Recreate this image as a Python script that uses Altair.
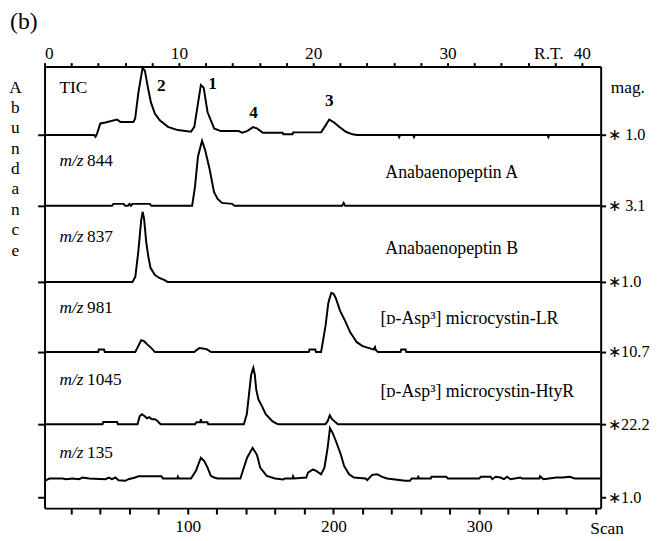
import altair as alt
import pandas as pd

# ---------------- data ----------------
# x = scan number, value = signal height above each trace's own baseline
tic_scan = [1.7, 35.6, 36.7, 37.8, 40, 43.5, 51.4, 53.7, 62.7, 63.9,
            66.1, 69, 70.6, 72.4, 74.7, 77.4, 80.8, 86.4, 93.2, 102.2,
            104.5, 106.8, 109, 110.9, 113.6, 118.1, 122.6, 135, 137.3, 140.7,
            144.8, 147.5, 151.5, 165.1, 165.6, 171.9, 172.3, 191.5, 194.4, 197.1,
            200.5, 203.9, 208.5, 213, 216.4, 244.5, 245.1, 245.7, 254.7, 255.3,
            255.9, 347, 347.5, 348, 383.4]
tic_abund = [0, 0, -1.7, 1.7, 11.7, 12.7, 15.7, 13.3, 13.3, 16.7,
             43, 68, 65, 50, 33, 21.7, 15, 8.3, 5, 3.3,
             8.3, 30, 50.7, 48, 23, 6.7, 4, 4, 2.3, 4,
             8, 6.7, 2.3, 2.3, 0.7, 0.7, 2.7, 2.7, 9.3, 15.7,
             12.7, 8.3, 3.3, 0.7, 0, 0, -2, 0, 0, -2,
             0, 0, -2, 0, 0]

mz844_scan = [1.7, 48, 49, 56, 57, 59, 60, 61, 62, 74, 75, 103, 105, 107, 109.8,
              112, 115, 118, 120.5, 123.5, 130.5, 132, 206, 207, 208, 383.4]
mz844_abund = [0, 0, 2, 2, 0, 0, 2, 0, 2, 2, 0, 0, 20, 50, 66,
               56, 37, 14, 7, 3, 2, 0, 0, 3, 0, 0]

mz837_scan = [1.7, 62, 64, 66, 68, 69, 70, 71.5, 73, 74.5, 77.5, 80.5, 84.5, 86, 383.4]
mz837_abund = [0, 0, 5, 30, 62, 71, 64, 40, 25, 14, 7, 4, 1.5, 0, 0]

mz981_scan = [1.7, 38.5, 39, 42.5, 43, 64, 66, 68, 70, 72,
              75, 77.5, 104.5, 106, 108, 113, 116, 183, 183.5, 187.5,
              188, 191.5, 194.5, 196.5, 198.5, 200, 201.5, 204.5, 207.5, 211.5,
              216, 220, 224.5, 227.5, 228.5, 229, 230.5, 246, 246.5, 249.5,
              250, 383.4]
mz981_abund = [0, 0, 2.5, 2.5, 0, 0, 6, 12, 11, 8,
               4, 0, 0, 2, 4, 3, 0, 0, 2.5, 2.5,
               0, 0, 26, 50, 60, 59, 55, 42, 33, 20,
               10, 6, 4, 2.5, 5, 2, 0, 0, 2.5, 2.5,
               0, 0]

mz1045_scan = [1.7, 41.5, 42, 51.5, 52, 65.5, 67, 68.5, 70.5, 72,
               73.5, 75.5, 77.5, 79, 80.5, 81.5, 105, 106, 108.5, 109,
               109.5, 113.5, 114, 138.5, 140.5, 142, 143.5, 145, 146, 147,
               148.5, 151, 153.5, 158, 161, 162, 194.5, 196, 197.5, 199,
               201.5, 203, 383.4]
mz1045_abund = [0, 0, 2.3, 2.3, 0, 0, 8, 10, 8, 6,
                7, 5, 5, 3.5, 1, 0, 0, 2, 2, 5,
                2, 2, 0, 0, 10, 30, 50, 57, 50, 35,
                25, 18, 10, 3, 0.5, 0, 0, 3, 9, 5,
                2, 0, 0]

mz135_scan = [1.7, 2.9, 5.1, 14.1, 16.4, 20.9, 25.4, 27.7, 32.2, 43.5,
              45.8, 48, 50.3, 52.5, 57.1, 59.3, 63.9, 66.1, 81.9, 83,
              92.8, 93.2, 93.7, 102.2, 105.6, 109, 111.3, 113.6, 115.8, 118.1,
              120.3, 136.1, 140.7, 144.5, 147.5, 149.7, 154.2, 159.9, 165.6, 166.6,
              171.9, 172.3, 173, 181.4, 182.5, 185.9, 188.1, 191.5, 193.8, 196,
              197.6, 199.5, 201.7, 205.1, 207.3, 210.7, 214.1, 222, 223.2, 226.6,
              230, 233.4, 236.8, 249.2, 252.5, 253.7, 257.8, 258.2, 258.9, 266.8,
              267.3, 277.4, 278.5, 300, 301.2, 307.9, 309, 311.3, 314.7, 317,
              319.2, 321.5, 328.3, 329.4, 341.4, 341.8, 344.1, 353.1, 357.6, 362.2,
              365.6, 383.4]
mz135_abund = [-0.7, -1.7, 0, 0, -0.7, 0, -0.7, 1, 0, -0.7,
               1, -0.7, 1, -1.7, -2.3, -0.7, 1, 2.3, 2.3, 0,
               0, 1.7, 0, 0, 7.7, 21, 17.7, 11, 2.7, 1,
               0, 0, 21, 31, 24, 11, 2.7, 0, -1, 0,
               0, 2.3, 0, 1, 6, 9.3, 7.7, 4.3, 11, 31,
               51, 46, 37.7, 24, 12.7, 4.3, 1, 0, -1.7, 3.7,
               4.3, 1.7, 0, -2.3, -2.3, 0, 0, 1.7, 0, 0,
               1.7, 1.7, 0, 0, 1.7, 1.7, -0.7, 1.7, 1, -0.7,
               1.7, -0.7, 1, 0, 0, 2.3, -0.7, 1, 1, 1.7,
               0, 0]

trace_names = ["TIC", "m/z 844", "m/z 837", "m/z 981", "m/z 1045", "m/z 135"]
trace_scans = [tic_scan, mz844_scan, mz837_scan, mz981_scan, mz1045_scan, mz135_scan]
trace_abunds = [tic_abund, mz844_abund, mz837_abund, mz981_abund, mz1045_abund, mz135_abund]

mz_values = ["844", "837", "981", "1045", "135"]
compounds = ["Anabaenopeptin A", "Anabaenopeptin B",
             "[ᴅ-Asp³] microcystin-LR", "[ᴅ-Asp³] microcystin-HtyR"]
compound_scan = [235.6, 235.6, 232.2, 232.2]
magnifications = ["∗ 1.0", "∗ 3.1", "∗1.0", "∗10.7", "∗22.2", "∗1.0"]
peak_ids = ["2", "1", "4", "3"]
peak_label_scan = [81.9, 117, 145.2, 197.2]
peak_label_abund = [50, 51.3, 22.3, 34]
scan_ticks = list(range(20, 381, 20))
rt_ticks = list(range(0, 41, 2))
abundance_letters = list("Abundance")
panel_tag = "(b)"

# ---------------- layout ----------------
W, H = 563, 447
trace_base = [377.7, 306, 229, 158, 85, 30]
mag_pos = [377.7, 306, 229, 158, 85, 11]
FONT = "Liberation Serif"
FS = 17.5

rows = []
for name, sc, ab, base in zip(trace_names, trace_scans, trace_abunds, trace_base):
    for s, a in zip(sc, ab):
        rows.append({"trace": name, "scan": s, "y": base + a})
df = pd.DataFrame(rows)

xs = alt.Scale(domain=[1.7, 383.4], nice=False, zero=False)
ys = alt.Scale(domain=[0, H], nice=False, zero=False)
x_none = alt.X("scan:Q", scale=xs, axis=None)
y_none = alt.Y("y:Q", scale=ys, axis=None)

traces = alt.Chart(df).mark_line(color="black", strokeWidth=2).encode(
    x=alt.X("scan:Q", scale=xs, axis=alt.Axis(
        orient="bottom", values=scan_ticks,
        labelExpr="datum.value % 100 === 0 ? datum.label : ''",
        tickSize=6, labelPadding=4, grid=False,
        title="Scan", titleX=569, titleY=26, titleAlign="center",
        titleBaseline="alphabetic", titleAngle=0)),
    y=alt.Y("y:Q", scale=ys, axis=alt.Axis(
        orient="left", values=mag_pos, labels=False, tickSize=7, grid=False,
        title=abundance_letters, titleAngle=0, titleX=-30, titleY=12,
        titleAlign="center", titleBaseline="top", titleLineHeight=20.6)),
    detail="trace:N",
    order="scan:Q",
)

rt_layer = alt.Chart(pd.DataFrame({"rt": rt_ticks})).mark_point(opacity=0).encode(
    x=alt.X("rt:Q", scale=alt.Scale(domain=[0, 41.4], nice=False, zero=False),
            axis=alt.Axis(orient="top", values=rt_ticks,
                          labelExpr="datum.value % 10 === 0 ? datum.label : ''",
                          tickSize=4, labelPadding=0, grid=False,
                          title="R.T.", titleX=510, titleY=-8, titleAlign="center",
                          titleBaseline="alphabetic", titleAngle=0)),
    y=alt.value(0),
)

mag_expr = " : ".join(
    f"abs(datum.value - {p}) < 0.5 ? '{m}'" for p, m in zip(mag_pos, magnifications)
) + " : ''"
mag_layer = alt.Chart(pd.DataFrame({"y": mag_pos})).mark_point(opacity=0).encode(
    y=alt.Y("y:Q", scale=ys, axis=alt.Axis(
        orient="right", values=mag_pos, labelExpr=mag_expr, tickSize=5,
        labelPadding=2, grid=False, labelAlign="left", labelFontSize=16.5,
        title="mag.", titleAngle=0, titleX=27, titleY=21,
        titleAlign="center", titleBaseline="middle")),
    x=alt.value(0),
)

tag_df = pd.DataFrame({"scan": [-12.5], "y": [492], "text": [panel_tag]})
tag_text = alt.Chart(tag_df).mark_text(align="center", baseline="middle", fontSize=24).encode(
    x=x_none, y=y_none, text="text:N")

tic_df = pd.DataFrame({"scan": [11.9], "y": [trace_base[0] + 48], "text": ["TIC"]})
tic_text = alt.Chart(tic_df).mark_text(align="left", baseline="middle", fontSize=FS).encode(
    x=x_none, y=y_none, text="text:N")

mz_df = pd.DataFrame({"scan": [11.9] * 5, "y": [p + 45 for p in mag_pos[1:]],
                      "mz": ["m/z"] * 5, "num": mz_values})
mz_italic = alt.Chart(mz_df).mark_text(align="left", baseline="middle", fontSize=FS,
                                       fontStyle="italic").encode(
    x=x_none, y=y_none, text="mz:N")
mz_num = alt.Chart(mz_df).mark_text(align="left", baseline="middle", fontSize=FS,
                                    dx=28).encode(
    x=x_none, y=y_none, text="num:N")

comp_df = pd.DataFrame({"scan": compound_scan, "y": [p + 33 for p in mag_pos[1:5]],
                        "text": compounds})
comp_text = alt.Chart(comp_df).mark_text(align="left", baseline="middle",
                                         fontSize=18).encode(
    x=x_none, y=y_none, text="text:N")

peak_df = pd.DataFrame({"scan": peak_label_scan,
                        "y": [trace_base[0] + a for a in peak_label_abund],
                        "text": peak_ids})
peak_text = alt.Chart(peak_df).mark_text(align="center", baseline="middle",
                                         fontSize=FS, fontWeight="bold").encode(
    x=x_none, y=y_none, text="text:N")

chart = alt.layer(
    traces, rt_layer, mag_layer, tag_text, tic_text, mz_italic, mz_num, comp_text, peak_text
).resolve_scale(
    x="independent", y="independent"
).properties(
    width=W, height=H,
    autosize=alt.AutoSizeParams(type="none"),
    padding={"left": 37, "top": 56, "right": 55, "bottom": 32},
).configure_view(stroke=None).configure_axis(
    domainColor="black", domainWidth=2, tickColor="black", tickWidth=2,
    labelColor="black", labelFont=FONT, labelFontSize=FS,
    titleColor="black", titleFont=FONT, titleFontSize=FS, titleFontWeight="normal",
).configure_text(font=FONT, color="black")

chart.save("out.html", embed_options={"renderer": "svg", "actions": False})
